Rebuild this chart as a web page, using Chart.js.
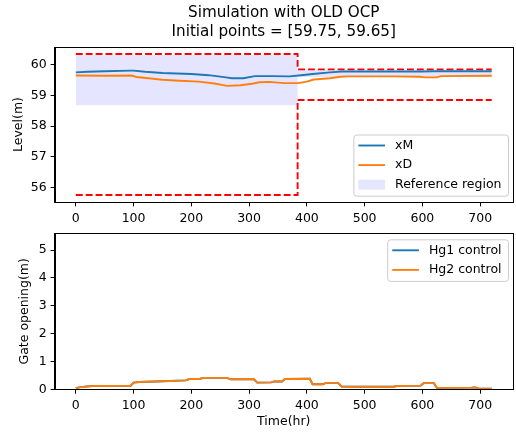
<!DOCTYPE html>
<html>
<head>
<meta charset="utf-8">
<script src="https://cdn.jsdelivr.net/npm/chart.js@4.4.1/dist/chart.umd.min.js"></script>
<style>
  body { margin: 0; background: #fff; }
  #wrap { position: relative; width: 516px; height: 432px; }
  canvas { position: absolute; left: 0; }
</style>
</head>
<body>
<div id="wrap">
  <canvas id="levelChart" width="516" height="225" style="top:0"></canvas>
  <canvas id="gateChart" width="516" height="207" style="top:225px"></canvas>
</div>
<script>
// ---- data ----
const levelTime = [0, 20, 50, 95, 100, 120, 150, 200, 230, 260, 270, 290, 310, 340, 370, 390, 410, 440, 460, 500, 600, 620, 720];
const xM = [59.75, 59.77, 59.79, 59.81, 59.81, 59.77, 59.73, 59.70, 59.66, 59.59, 59.56, 59.56, 59.63, 59.63, 59.62, 59.66, 59.70, 59.75, 59.78, 59.78, 59.78, 59.79, 59.79];

const xdTime = [0, 50, 97, 105, 130, 150, 180, 213, 240, 262, 285, 305, 318, 335, 360, 385, 400, 412, 440, 458, 470, 550, 595, 605, 625, 632, 720];
const xD = [59.65, 59.64, 59.65, 59.60, 59.55, 59.51, 59.48, 59.45, 59.39, 59.31, 59.33, 59.38, 59.43, 59.44, 59.40, 59.40, 59.45, 59.52, 59.56, 59.61, 59.62, 59.62, 59.61, 59.59, 59.59, 59.63, 59.64];

const boundTime = [0, 384, 384, 720];
const upperBound = [60.35, 60.35, 59.85, 59.85];
const lowerBound = [55.75, 55.75, 58.85, 58.85];
const refHigh = [60.32, 60.32, 59.83, 59.83];
const refLow = [58.68, 58.68, 59.60, 59.60];

const gateTime = [0, 8, 28, 95, 100, 110, 150, 190, 197, 215, 220, 262, 268, 308, 314, 338, 343, 357, 362, 405, 410, 428, 433, 454, 460, 480, 550, 556, 597, 602, 620, 625, 685, 692, 697, 720];
const hg2 = [0.04, 0.08, 0.12, 0.13, 0.24, 0.26, 0.29, 0.32, 0.37, 0.37, 0.41, 0.41, 0.36, 0.37, 0.24, 0.25, 0.28, 0.28, 0.37, 0.38, 0.18, 0.18, 0.23, 0.23, 0.10, 0.09, 0.09, 0.12, 0.13, 0.22, 0.22, 0.05, 0.06, 0.07, 0.03, 0.02];
const hg1 = hg2.slice(); // hidden under Hg2 in the reference

const timeTicks = [0, 100, 200, 300, 400, 500, 600, 700];
const levelTicks = [56, 57, 58, 59, 60];
const gateTicks = [0, 1, 2, 3, 4, 5];

// ---- helpers ----
Chart.defaults.font.family = '"DejaVu Sans", sans-serif';
Chart.defaults.color = '#000';

const blue = '#1f77b4', orange = '#ff7f0e', red = '#ff0000';
const lw = 1.9;
const fontPx = 12.5;

function xy(xs, ys) { return xs.map((x, i) => ({ x: x, y: ys[i] })); }
function padded(lo, hi) { const m = (hi - lo) * 0.05; return [lo - m, hi + m]; }
function fixedTicks(values) { return scale => { scale.ticks = values.map(v => ({ value: v })); }; }

const xlim = padded(Math.min(...levelTime), Math.max(...levelTime));
const ylimLevel = padded(Math.min(...lowerBound), Math.max(...upperBound));

// box around the plot, like matplotlib spines
const frame = {
  id: 'frame',
  afterDatasetsDraw(chart) {
    const a = chart.chartArea, ctx = chart.ctx;
    const l = Math.round(a.left) - 0.5, t = Math.round(a.top) + 0.5;
    const r = Math.round(a.right) + 0.5, b = Math.round(a.bottom) + 0.5;
    ctx.save();
    ctx.strokeStyle = '#000';
    ctx.lineWidth = 1;
    ctx.strokeRect(l, t, r - l, b - t);
    ctx.restore();
  }
};

// matplotlib-style legend inside the axes
const boxLegend = {
  id: 'boxLegend',
  afterDraw(chart, args, opts) {
    const ctx = chart.ctx, a = chart.chartArea;
    const items = chart.data.datasets.filter(d => d.label);
    ctx.save();
    ctx.font = fontPx + 'px "DejaVu Sans"';
    const textW = Math.max(...items.map(d => ctx.measureText(d.label).width));
    const w = 5 + 26.7 + 10 + textW + 6.5;
    const h = (items.length - 1) * 19.6 + 22;
    const x = a.right - 4.5 - w;
    const y = opts.top != null ? a.top + opts.top : a.bottom - opts.bottom - h;

    ctx.beginPath();
    ctx.roundRect(x + 0.5, y + 0.5, w, h, 3);
    ctx.fillStyle = 'rgba(255,255,255,0.8)';
    ctx.fill();
    ctx.strokeStyle = '#cccccc';
    ctx.lineWidth = 1;
    ctx.stroke();

    items.forEach((d, i) => {
      const cy = y + 11 + i * 19.6;
      if (d.fill) {
        ctx.fillStyle = d.backgroundColor;
        ctx.fillRect(x + 5, cy - 5, 26.7, 10);
      } else {
        ctx.strokeStyle = d.borderColor;
        ctx.lineWidth = d.borderWidth;
        ctx.beginPath();
        ctx.moveTo(x + 5, cy);
        ctx.lineTo(x + 31.7, cy);
        ctx.stroke();
      }
      ctx.fillStyle = '#000';
      ctx.textBaseline = 'middle';
      ctx.textAlign = 'left';
      ctx.fillText(d.label, x + 41.7, cy);
    });
    ctx.restore();
  }
};

function axis(extra) {
  return Object.assign({
    type: 'linear',
    bounds: 'data',
    grid: { drawOnChartArea: false, tickLength: 4.4, tickColor: '#000' },
    border: { color: '#000' },
    ticks: { font: { size: fontPx }, color: '#000', maxRotation: 0, autoSkip: false }
  }, extra);
}

// ---- level chart ----
new Chart(document.getElementById('levelChart'), {
  type: 'line',
  data: {
    datasets: [
      { label: 'xM', data: xy(levelTime, xM), borderColor: blue, borderWidth: lw, pointRadius: 0, fill: false },
      { label: 'xD', data: xy(xdTime, xD), borderColor: orange, borderWidth: lw, pointRadius: 0, fill: false },
      { label: 'Reference region', data: xy(boundTime, refHigh), borderColor: 'rgba(0,0,0,0)', borderWidth: 1,
        backgroundColor: 'rgba(0,0,255,0.1)', fill: '+1', pointRadius: 0 },
      { data: xy(boundTime, refLow), borderColor: 'rgba(0,0,0,0)', borderWidth: 1, pointRadius: 0, fill: false },
      { data: xy(boundTime, upperBound), borderColor: red, borderWidth: lw, borderDash: [6.9, 3], pointRadius: 0, fill: false },
      { data: xy(boundTime, lowerBound), borderColor: red, borderWidth: lw, borderDash: [6.9, 3], pointRadius: 0, fill: false }
    ]
  },
  options: {
    responsive: false,
    animation: false,
    events: [],
    layout: { padding: { left: 0, right: 3.5, top: 0, bottom: 0 } },
    plugins: {
      legend: { display: false },
      tooltip: { enabled: false },
      title: {
        display: true,
        text: ['Simulation with OLD OCP', 'Initial points = [59.75, 59.65]'],
        font: { size: 15.2, weight: 'normal', lineHeight: 1.25 },
        color: '#000',
        padding: { top: 4, bottom: 5 },
        fullSize: false
      },
      boxLegend: { bottom: 6.3 }
    },
    scales: {
      x: axis({
        min: xlim[0], max: xlim[1],
        afterBuildTicks: fixedTicks(timeTicks),
        afterFit: s => { s.height = 23; s.paddingLeft = 0; s.paddingRight = 0; },
        ticks: { font: { size: fontPx }, color: '#000', maxRotation: 0, autoSkip: false, padding: 5 }
      }),
      y: axis({
        min: ylimLevel[0], max: ylimLevel[1],
        afterBuildTicks: fixedTicks(levelTicks),
        afterFit: s => { s.width = 55; s.paddingTop = 0; s.paddingBottom = 0; },
        title: { display: true, text: 'Level(m)', font: { size: fontPx }, color: '#000', padding: { top: 10.8, bottom: 0 } },
        ticks: { font: { size: fontPx }, color: '#000', padding: 4 }
      })
    }
  },
  plugins: [frame, boxLegend]
});

// ---- gate chart ----
new Chart(document.getElementById('gateChart'), {
  type: 'line',
  data: {
    datasets: [
      { label: 'Hg1 control', data: xy(gateTime, hg1), borderColor: blue, borderWidth: lw, pointRadius: 0, fill: false, order: 1 },
      { label: 'Hg2 control', data: xy(gateTime, hg2), borderColor: orange, borderWidth: lw, pointRadius: 0, fill: false, order: 0 }
    ]
  },
  options: {
    responsive: false,
    animation: false,
    events: [],
    layout: { padding: { left: 0, right: 3.5, top: 8.3, bottom: 0 } },
    plugins: {
      legend: { display: false },
      tooltip: { enabled: false },
      boxLegend: { top: 6 }
    },
    scales: {
      x: axis({
        min: xlim[0], max: xlim[1],
        afterBuildTicks: fixedTicks(timeTicks),
        afterFit: s => { s.height = 42.7; s.paddingLeft = 0; s.paddingRight = 0; },
        title: { display: true, text: 'Time(hr)', font: { size: fontPx }, color: '#000', padding: { top: 0, bottom: 2.5 } },
        ticks: { font: { size: fontPx }, color: '#000', maxRotation: 0, autoSkip: false, padding: 5 }
      }),
      y: axis({
        min: 0, max: 5.6,
        afterBuildTicks: fixedTicks(gateTicks),
        afterFit: s => { s.width = 55; s.paddingTop = 0; s.paddingBottom = 0; },
        title: { display: true, text: 'Gate opening(m)', font: { size: fontPx }, color: '#000', padding: { top: 17.3, bottom: 0 } },
        ticks: { font: { size: fontPx }, color: '#000', padding: 4 }
      })
    }
  },
  plugins: [frame, boxLegend]
});
</script>
</body>
</html>
